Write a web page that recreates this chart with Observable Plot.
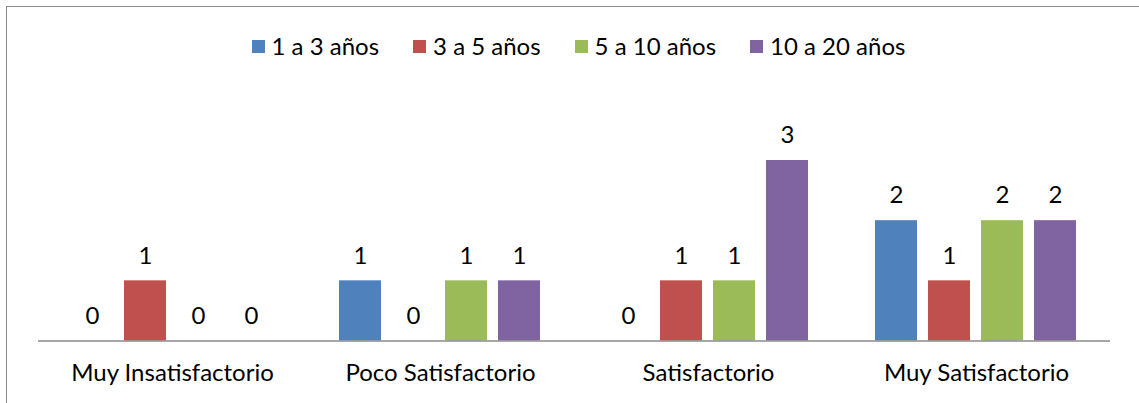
<!DOCTYPE html>
<html>
<head>
<meta charset="utf-8">
<script src="https://cdn.jsdelivr.net/npm/d3@7"></script>
<script src="https://cdn.jsdelivr.net/npm/@observablehq/plot@0.6"></script>
<style>
  html, body { margin: 0; padding: 0; background: #fff; overflow: hidden; }
  #wrap { position: relative; width: 1139px; height: 403px; }
  #frame { position: absolute; left: 6px; top: 6px; width: 1200px; height: 500px; border: 1.5px solid #8c8c8c; box-sizing: border-box; }
  #chart { position: absolute; left: 0; top: 0; }
  #legend { position: absolute; top: 31px; left: 9px; width: 1139px; display: flex; justify-content: center; font-family: Lato, "Noto Sans", sans-serif; font-size: 24px; line-height: 30px; color: #000; }
  .item { display: flex; align-items: center; margin: 0 17px; }
  .sw { width: 13px; height: 13px; margin-right: 7px; }
</style>
</head>
<body>
<div id="wrap">
  <div id="frame"></div>
  <div id="chart"></div>
  <div id="legend"></div>
</div>
<script>
const categories = ["Muy Insatisfactorio", "Poco Satisfactorio", "Satisfactorio", "Muy Satisfactorio"];
const seriesNames = ["1 a 3 años", "3 a 5 años", "5 a 10 años", "10 a 20 años"];
const colors = ["#4F81BD", "#C0504D", "#9BBB59", "#8064A2"];
const v1a3 = [0, 1, 0, 2];
const v3a5 = [1, 0, 1, 1];
const v5a10 = [0, 1, 1, 2];
const v10a20 = [0, 1, 3, 2];

const seriesValues = [v1a3, v3a5, v5a10, v10a20];
const data = [];
categories.forEach((c, i) => {
  seriesNames.forEach((s, j) => data.push({cat: c, serie: s, value: seriesValues[j][i]}));
});

const font = 'Lato, "Noto Sans", sans-serif';

const chart = Plot.plot({
  width: 1139,
  height: 403,
  marginLeft: 36,
  marginRight: 28,
  marginTop: 160,
  marginBottom: 62.5,
  style: {fontFamily: font, fontSize: "24px", color: "#000", background: "transparent"},
  fx: {domain: categories, padding: 0, label: null, axis: null},
  x: {domain: seriesNames, paddingInner: 0.2, paddingOuter: 0.61, axis: null},
  y: {domain: [0, 3], axis: null},
  color: {domain: seriesNames, range: colors},
  marks: [
    Plot.barY(data, {fx: "cat", x: "serie", y: "value", fill: "serie"}),
    Plot.ruleY([0], {stroke: "#8a8a8a", strokeWidth: 1.5}),
    Plot.text(data, {fx: "cat", x: "serie", y: "value", text: d => String(d.value), dy: -25, fill: "#000", fontSize: 24}),
    Plot.axisFx({domain: categories, anchor: "bottom", tickSize: 0, tickPadding: 23, fontSize: 24, label: null})
  ]
});
document.getElementById("chart").appendChild(chart);

const legend = document.getElementById("legend");
seriesNames.forEach((s, i) => {
  const it = document.createElement("div");
  it.className = "item";
  const sw = document.createElement("div");
  sw.className = "sw";
  sw.style.background = colors[i];
  const t = document.createElement("span");
  t.textContent = s;
  it.appendChild(sw); it.appendChild(t);
  legend.appendChild(it);
});
</script>
</body>
</html>
